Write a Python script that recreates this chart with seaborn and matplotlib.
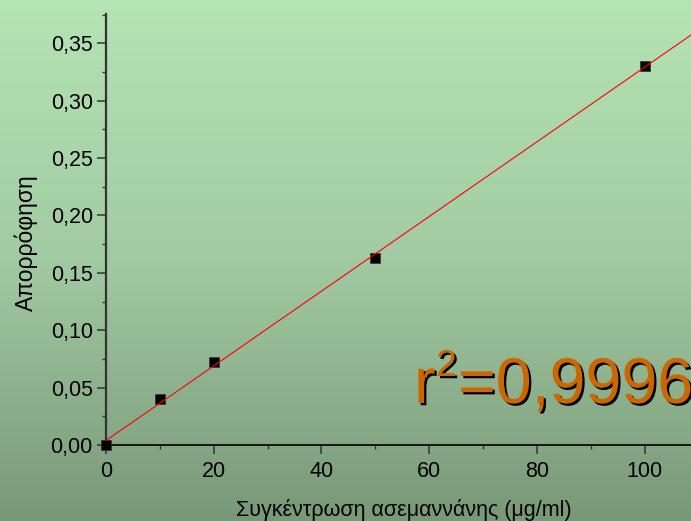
import numpy as np
import pandas as pd
import matplotlib
matplotlib.use("Agg")
import matplotlib.pyplot as plt
import matplotlib.patheffects as pe
from matplotlib.colors import LinearSegmentedColormap
from matplotlib.ticker import MultipleLocator, FuncFormatter
import seaborn as sns

# data
concentration = [0, 10, 20, 50, 100]
absorbance = [0.000, 0.040, 0.072, 0.163, 0.330]
x_label = "Συγκέντρωση ασεμαννάνης (μg/ml)"
y_label = "Απορρόφηση"
r2_text = "0,9996"

sns.set_style("ticks")
plt.rcParams['font.family'] = ['Liberation Sans', 'DejaVu Sans']

df = pd.DataFrame({"x": concentration, "y": absorbance})

fig = plt.figure(figsize=(6.91, 5.21), dpi=100)

# gradient background
bg = fig.add_axes([0, 0, 1, 1], zorder=0)
cmap = LinearSegmentedColormap.from_list("g", ["#b5e4b5", "#a2caa2", "#789878"])
grad = np.linspace(0, 1, 256).reshape(-1, 1)
bg.imshow(grad, aspect='auto', cmap=cmap, extent=[0, 1, 0, 1])
bg.set_axis_off()

ax = fig.add_axes([106 / 691, (521 - 445) / 521, (691 - 106) / 691, (445 - 14) / 521], zorder=1)
ax.set_facecolor('none')
ax.set_xlim(0, 108.6)
ax.set_ylim(0, 0.3755)

sns.regplot(data=df, x="x", y="y", ax=ax, ci=None, truncate=False, marker='s',
            scatter_kws=dict(s=45, color='black', edgecolors='#333333', linewidths=0.5,
                             clip_on=False, zorder=3, alpha=1),
            line_kws=dict(color='red', lw=0.8, zorder=4))
ax.set_xlim(0, 108.6)
ax.set_ylim(0, 0.3755)

for s in ['top', 'right']:
    ax.spines[s].set_visible(False)
ax.spines['left'].set_color('#333333')
ax.spines['left'].set_linewidth(1.6)
ax.spines['bottom'].set_color('black')
ax.spines['bottom'].set_linewidth(1.2)

ax.xaxis.set_major_locator(MultipleLocator(20))
ax.xaxis.set_minor_locator(MultipleLocator(10))
ax.yaxis.set_major_locator(MultipleLocator(0.05))
ax.yaxis.set_minor_locator(MultipleLocator(0.025))
ax.yaxis.set_major_formatter(FuncFormatter(lambda v, p: f"{v:.2f}".replace('.', ',')))
ax.tick_params(axis='both', which='major', direction='out', length=6.5, width=1.1,
               colors='#333333', labelcolor='black', labelsize=15.5)
ax.tick_params(axis='both', which='minor', direction='out', length=3.2, width=1.0,
               colors='#333333')
ax.tick_params(axis='y', which='major', pad=3)
ax.tick_params(axis='x', which='major', pad=5)

ax.set_xlabel(x_label, fontsize=15.5, color='black')
ax.set_ylabel(y_label, fontsize=16.5, color='black')
ax.xaxis.set_label_coords(0.509, -0.125)
ax.yaxis.set_label_coords(-0.116, 0.47)

shadow = [pe.withSimplePatchShadow(offset=(1.6, -1.6), shadow_rgbFace='black', alpha=1)]
orange = '#CC6600'
fs_big = 46.5
ax.text(414 / 691, (521 - 403) / 521, "r", transform=fig.transFigure,
        fontsize=fs_big, color=orange, va='baseline', ha='left', path_effects=shadow,
        zorder=6, clip_on=False)
ax.text(436 / 691, (521 - 376) / 521, "2", transform=fig.transFigure,
        fontsize=27, color=orange, va='baseline', ha='left', path_effects=shadow,
        zorder=6, clip_on=False)
ax.text(458 / 691, (521 - 403) / 521, "=" + r2_text, transform=fig.transFigure,
        fontsize=fs_big, color=orange, va='baseline', ha='left', path_effects=shadow,
        zorder=6, clip_on=False)

fig.savefig("out.png", dpi=100)
